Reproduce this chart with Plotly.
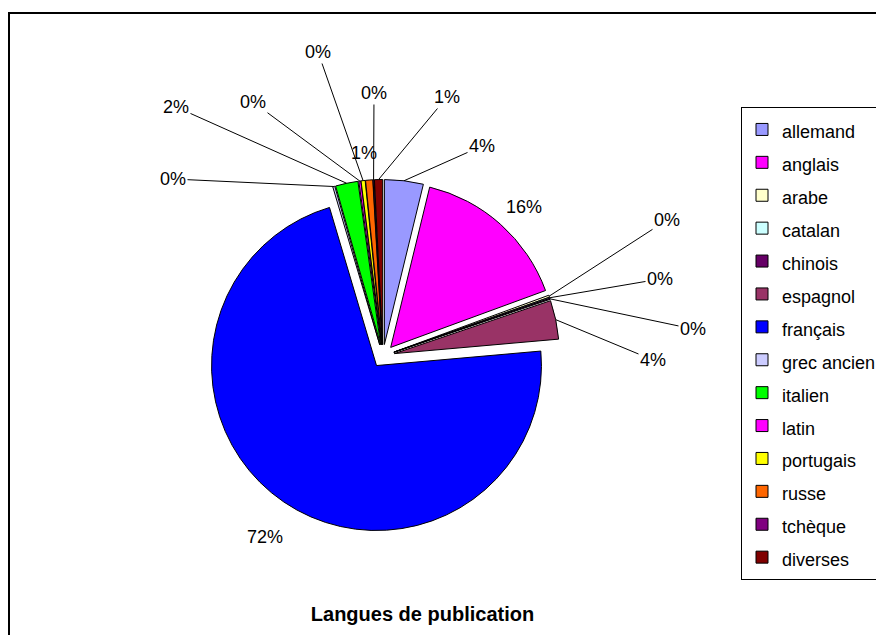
import math
import plotly.graph_objects as go

# ---------------- data ----------------
languages = ["allemand", "anglais", "arabe", "catalan", "chinois", "espagnol",
             "français", "grec ancien", "italien", "latin", "portugais",
             "russe", "tchèque", "diverses"]
shares = [3.8, 15.6, 0.2, 0.1, 0.1, 3.8, 71.8, 0.2, 2.2, 0.2, 0.4, 0.7, 0.1, 0.8]
colors = ["#9999FF", "#FF00FF", "#FFFFCC", "#CCFFFF", "#660066", "#993366",
          "#0000FF", "#CCCCFF", "#00FF00", "#FF00FF", "#FFFF00", "#FF6600",
          "#800080", "#800000"]
title_text = "Langues de publication"

# ---------------- layout / style ----------------
OFF = 8                    # page body margin of the html page
W, H = 884 - OFF, 635 - OFF
CX, CY = 383, 356          # pie centre (page px)
BOX = 353                  # pie box size (px)
PULL = 0.07
FONT = "Liberation Sans, Arial, sans-serif"

# where each percentage label sits (page px) and whether it has a leader line
label_xy = [(482, 146), (524, 207), (667, 220), (660, 279), (693, 329), (653, 360),
            (265, 537), (173, 179), (176, 107), (253, 102), (318, 52),
            (364, 153), (374, 93), (447, 97)]
leader = [True, False, True, True, True, True, False, True, True, True, True,
          False, True, True]


def fx(px):
    return (px - OFF) / W


def fy(py):
    return 1 - (py - OFF) / H


total = sum(shares)
pct_text = [f"{round(v / total * 100)}%" for v in shares]

fig = go.Figure()
fig.add_trace(go.Pie(
    labels=[f"<span style='font-size:18px'>{n}</span>" for n in languages],
    values=shares,
    sort=False,
    direction="clockwise",
    rotation=0,
    pull=PULL,
    marker=dict(colors=colors, line=dict(color="black", width=1)),
    textinfo="none",
    hoverinfo="label+percent",
    domain=dict(x=[fx(CX - BOX / 2), fx(CX + BOX / 2)],
                y=[fy(CY + BOX / 2), fy(CY - BOX / 2)]),
    showlegend=True,
))

annotations = []
cum = 0.0
for i, v in enumerate(shares):
    mid = (cum + v / 2) / total * 2 * math.pi
    cum += v
    px = CX + BOX / 2 * math.sin(mid)
    py = CY - BOX / 2 * math.cos(mid)
    lx, ly = label_xy[i]
    if leader[i]:
        annotations.append(dict(
            x=fx(px), y=fy(py), xref="paper", yref="paper",
            ax=lx - px, ay=ly - py, text=pct_text[i], showarrow=True,
            arrowhead=0, arrowwidth=1, arrowcolor="black", standoff=0,
            font=dict(family=FONT, size=18, color="black")))
    else:
        annotations.append(dict(
            x=fx(lx), y=fy(ly), xref="paper", yref="paper",
            xanchor="center", yanchor="middle",
            text=pct_text[i], showarrow=False,
            font=dict(family=FONT, size=18, color="black")))

fig.update_layout(
    width=W, height=H,
    margin=dict(l=0, r=0, t=0, b=0, autoexpand=False),
    paper_bgcolor="white", plot_bgcolor="white",
    font=dict(family=FONT, color="black"),
    title=dict(text=title_text, x=fx(422.5), y=fy(614), xref="paper", yref="paper",
               xanchor="center", yanchor="middle",
               font=dict(family=FONT, size=20, color="black", weight="bold")),
    legend=dict(x=fx(741), y=fy(107), xanchor="left", yanchor="top",
                bordercolor="black", borderwidth=1, bgcolor="white",
                font=dict(family=FONT, size=23, color="black"),
                traceorder="normal"),
    annotations=annotations,
    shapes=[dict(type="rect", xref="paper", yref="paper",
                 x0=fx(9), x1=1.05, y0=fy(13), y1=-0.05,
                 line=dict(color="black", width=2), layer="below")],
)

fig.write_html("out.html")
